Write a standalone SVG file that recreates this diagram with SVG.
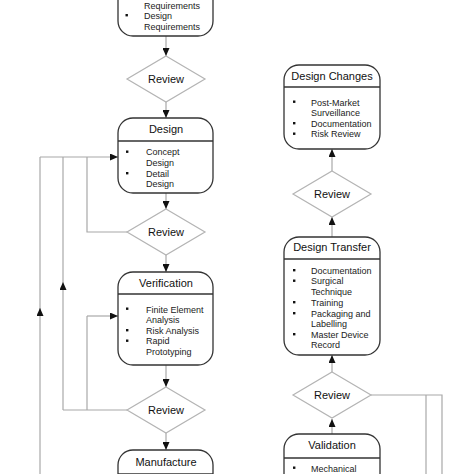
<svg xmlns="http://www.w3.org/2000/svg" width="474" height="474" viewBox="0 0 474 474">
<defs>
<marker id="ah" markerUnits="userSpaceOnUse" markerWidth="8" markerHeight="7" refX="8" refY="3.5" orient="auto">
<path d="M0,0 L8,3.5 L0,7 z" fill="#111"/>
</marker>
<style>
.box{fill:#fff;stroke:#333;stroke-width:1.3}
.div{stroke:#333;stroke-width:1.3}
.dia{fill:#fff;stroke:#b4b4b4;stroke-width:1.2}
.ln{fill:none;stroke:#a8a8a8;stroke-width:1.2}
.ar{fill:none;stroke:#a8a8a8;stroke-width:1.2;marker-end:url(#ah)}
.t{font-family:"Liberation Sans",Arial,sans-serif;font-size:11px;fill:#111;text-anchor:middle}
.b{font-family:"Liberation Sans",Arial,sans-serif;font-size:9px;fill:#222}
.bu{fill:#111}
</style>
</defs>
<rect width="474" height="474" fill="#fff"/>

<g id="connectors">
<path class="ar" d="M166,36 L166,56"/>
<path class="ar" d="M166,102 L166,118"/>
<path class="ar" d="M166,193 L166,209"/>
<path class="ar" d="M166,255 L166,272"/>
<path class="ar" d="M166,365 L166,387"/>
<path class="ar" d="M166,433 L166,450"/>
<path class="ln" d="M127,232 L87,232 L87,157"/>
<path class="ar" d="M40,157 L118,157"/>
<path class="ln" d="M63,157 L63,282"/>
<path class="ar" d="M63,410 L63,282"/>
<path class="ln" d="M127,410 L63,410"/>
<path class="ln" d="M87,410 L87,316"/>
<path class="ar" d="M87,316 L118,316"/>
<path class="ln" d="M40,157 L40,314"/>
<path class="ar" d="M40,480 L40,308"/>
<path class="ar" d="M332,434 L332,419"/>
<path class="ar" d="M332,372 L332,355"/>
<path class="ar" d="M332,237 L332,217"/>
<path class="ar" d="M332,171 L332,149"/>
<path class="ln" d="M371,395 L442,395 L442,480"/>
<path class="ln" d="M426,395 L426,480"/>
</g>

<g id="requirements">
<rect class="box" x="118" y="-60" width="95" height="96" rx="15"/>
<text class="b" x="144" y="8.5">Requirements</text>
<rect class="bu" x="125.5" y="14" width="2.4" height="2.4"/>
<text class="b" x="144" y="19">Design</text>
<text class="b" x="144" y="29.5">Requirements</text>
</g>

<g id="review1">
<polygon class="dia" points="166,56 205,79 166,102 127,79"/>
<text class="t" x="166" y="83">Review</text>
</g>

<g id="design">
<rect class="box" x="118" y="118" width="95" height="75" rx="15"/>
<line class="div" x1="118" y1="141" x2="213" y2="141"/>
<text class="t" x="166" y="133">Design</text>
<rect class="bu" x="126" y="150.5" width="2.4" height="2.4"/>
<text class="b" x="146" y="155">Concept</text>
<text class="b" x="146" y="166">Design</text>
<rect class="bu" x="126" y="172" width="2.4" height="2.4"/>
<text class="b" x="146" y="176.5">Detail</text>
<text class="b" x="146" y="187">Design</text>
</g>

<g id="review2">
<polygon class="dia" points="166,209 205,232 166,255 127,232"/>
<text class="t" x="166" y="236">Review</text>
</g>

<g id="verification">
<rect class="box" x="118" y="272" width="95" height="93" rx="15"/>
<line class="div" x1="118" y1="294" x2="213" y2="294"/>
<text class="t" x="166" y="287">Verification</text>
<rect class="bu" x="126" y="307.5" width="2.4" height="2.4"/>
<text class="b" x="146" y="312.5">Finite Element</text>
<text class="b" x="146" y="323">Analysis</text>
<rect class="bu" x="126" y="329" width="2.4" height="2.4"/>
<text class="b" x="146" y="333.5">Risk Analysis</text>
<rect class="bu" x="126" y="339.5" width="2.4" height="2.4"/>
<text class="b" x="146" y="344">Rapid</text>
<text class="b" x="146" y="354.5">Prototyping</text>
</g>

<g id="review3">
<polygon class="dia" points="166,387 205,410 166,433 127,410"/>
<text class="t" x="166" y="414">Review</text>
</g>

<g id="manufacture">
<rect class="box" x="118" y="450" width="95" height="80" rx="15"/>
<line class="div" x1="118" y1="474" x2="213" y2="474"/>
<text class="t" x="166" y="466">Manufacture</text>
</g>

<g id="design-changes">
<rect class="box" x="284" y="65" width="96" height="84" rx="15"/>
<line class="div" x1="284" y1="87" x2="380" y2="87"/>
<text class="t" x="332" y="80">Design Changes</text>
<rect class="bu" x="293" y="100.5" width="2.4" height="2.4"/>
<text class="b" x="311" y="105.5">Post-Market</text>
<text class="b" x="311" y="116">Surveillance</text>
<rect class="bu" x="293" y="122" width="2.4" height="2.4"/>
<text class="b" x="311" y="126.5">Documentation</text>
<rect class="bu" x="293" y="132.5" width="2.4" height="2.4"/>
<text class="b" x="311" y="137">Risk Review</text>
</g>

<g id="review4">
<polygon class="dia" points="332,171 371,194 332,217 293,194"/>
<text class="t" x="332" y="198">Review</text>
</g>

<g id="design-transfer">
<rect class="box" x="284" y="237" width="96" height="118" rx="15"/>
<line class="div" x1="284" y1="259" x2="380" y2="259"/>
<text class="t" x="332" y="251">Design Transfer</text>
<rect class="bu" x="293" y="269" width="2.4" height="2.4"/>
<text class="b" x="311" y="273.5">Documentation</text>
<rect class="bu" x="293" y="279.5" width="2.4" height="2.4"/>
<text class="b" x="311" y="284">Surgical</text>
<text class="b" x="311" y="295">Technique</text>
<rect class="bu" x="293" y="301" width="2.4" height="2.4"/>
<text class="b" x="311" y="305.5">Training</text>
<rect class="bu" x="293" y="312" width="2.4" height="2.4"/>
<text class="b" x="311" y="316.5">Packaging and</text>
<text class="b" x="311" y="327">Labelling</text>
<rect class="bu" x="293" y="333" width="2.4" height="2.4"/>
<text class="b" x="311" y="337.5">Master Device</text>
<text class="b" x="311" y="348">Record</text>
</g>

<g id="review5">
<polygon class="dia" points="332,372 371,395 332,418 293,395"/>
<text class="t" x="332" y="399">Review</text>
</g>

<g id="validation">
<rect class="box" x="284" y="434" width="96" height="90" rx="15"/>
<line class="div" x1="284" y1="458" x2="380" y2="458"/>
<text class="t" x="332" y="449">Validation</text>
<rect class="bu" x="293" y="466.5" width="2.4" height="2.4"/>
<text class="b" x="311" y="471.5">Mechanical</text>
</g>
</svg>
